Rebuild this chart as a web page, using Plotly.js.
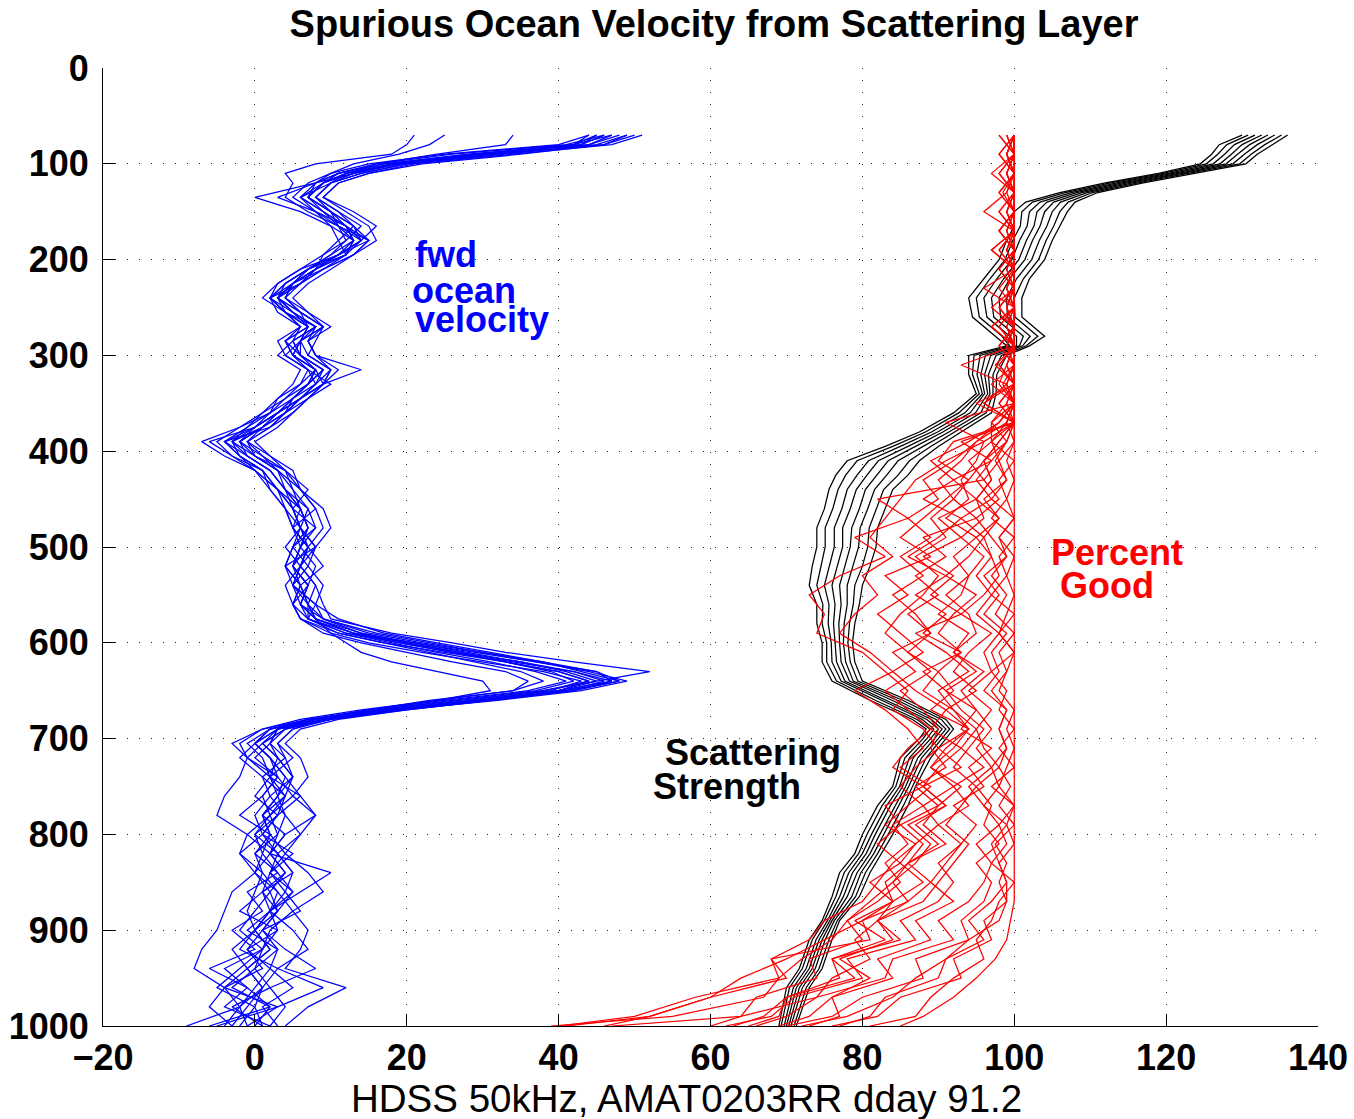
<!DOCTYPE html>
<html>
<head>
<meta charset="utf-8">
<script src="https://cdn.plot.ly/plotly-3.0.1.min.js"></script>
<style>html,body{margin:0;padding:0;background:#fff;}#chart{width:1354px;height:1119px;}</style>
</head>
<body>
<div id="chart"></div>
<script>
// ---------- tick labels ----------
const xTicks = [-20, 0, 20, 40, 60, 80, 100, 120, 140];
const xTickText = ['\u221220', '0', '20', '40', '60', '80', '100', '120', '140'];
const yTicks = [0, 100, 200, 300, 400, 500, 600, 700, 800, 900, 1000];
const yTickText = ['0', '100', '200', '300', '400', '500', '600', '700', '800', '900', '1000'];

// ---------- fwd ocean velocity (blue) ----------
const depthB = [70,80,90,100,110,120,
  135,150,165,180,195,210,225,240,255,270,285,300,315,330,345,360,375,390,405,420,
  440,460,480,500,520,540,560,
  575,590,600,610,620,630,640,650,660,670,680,690,
  705,720,740,760,780,800,820,840,860,880,900,920,940,960,980,1000];
const blue1 = [46,43,30,18,12,9, 6,9,12,13,10,7,4,2,5,8,5,6,9,7,5,3,0,-3,-1,2, 4,6,7,6,5,7,6, 8,14,20,27,33,40,44,38,27,16,8,3, 0,2,4,3,1,2,4,2,1,3,0,2,-1,1,-2,-4];
const blue2 = [49,45,33,20,14,10, 8,11,14,12,9,6,3,1,4,6,3,4,7,6,4,1,-1,-4,-2,1, 3,5,6,8,4,6,7, 9,16,23,30,37,45,47,40,30,18,9,4, 2,0,3,5,2,0,3,5,1,2,-1,3,0,-3,2,0];
const blue3 = [44,40,25,15,10,7, 5,8,10,11,12,8,5,3,6,9,6,7,10,8,6,4,2,-1,1,4, 5,7,8,5,7,5,8, 7,12,18,24,31,37,41,36,25,15,7,2, -1,1,2,4,3,0,1,3,5,2,0,-2,3,1,-1,-3];
const blue4 = [21,20,18,8,4,5, 4,7,11,14,11,8,5,2,4,7,4,5,8,6,3,1,-2,-5,-3,0, 2,4,5,7,6,4,5, 6,10,15,22,30,38,43,39,29,19,10,5, 3,4,1,2,4,3,0,1,3,5,2,1,-2,-5,0,1];
const blue5 = [47,44,32,19,13,8, 0,6,10,13,12,9,6,4,7,10,7,8,11,9,7,5,2,-1,0,3, 6,8,9,7,6,8,9, 10,18,26,33,42,52,45,40,30,19,10,4, 1,3,5,2,0,1,3,5,4,2,3,1,0,2,-3,1];
const blue6 = [50,46,35,22,15,11, 9,12,15,16,13,9,6,3,5,8,5,6,9,8,6,3,1,-2,0,3, 4,6,7,5,4,5,6, 7,11,17,23,29,35,38,34,24,14,6,1, -2,-1,2,3,1,4,2,0,2,0,-2,1,-4,-1,2,-6];
const blue7 = [34,33,24,16,11,8, 6,8,11,12,10,7,5,4,6,7,6,5,8,7,5,2,0,-6,-3,1, 3,4,5,6,5,7,5, 7,13,21,28,35,41,45,38,28,17,8,2, 0,2,3,1,2,3,2,4,2,3,1,-1,2,0,-2,-1];
const blue8 = [45,42,28,17,12,9, 7,10,13,15,11,6,3,2,4,6,5,3,6,5,3,2,-1,-3,-2,0, 3,5,6,5,4,6,5, 6,9,14,20,26,33,36,34,23,15,8,4, 1,3,2,0,3,1,-2,1,0,-1,0,-3,-1,-4,-2,-9];
const blue9 = [48,44,31,19,13,10, 8,11,13,14,12,8,6,3,5,8,7,8,14,9,6,4,1,-2,1,3, 5,6,7,6,5,7,6, 9,14,21,29,37,44,49,43,32,19,9,3, 2,4,5,3,4,6,3,2,5,3,1,3,2,5,1,3];
const blue10 = [25,23,19,13,10,8, 7,10,12,13,11,8,5,3,5,7,6,6,8,7,5,3,0,-4,-1,2, 4,5,6,7,5,6,7, 8,10,12,14,18,24,30,31,24,15,8,3, 0,2,4,6,8,4,2,10,6,2,0,2,-1,1,0,-2];
const blue11 = [46,41,26,16,11,9, 7,9,11,15,13,10,7,5,7,9,6,4,7,10,7,4,2,-4,-2,1, 2,4,6,8,6,5,7, 8,13,19,26,34,42,46,41,30,17,7,1, -3,-1,-2,-4,-5,-1,-2,0,-3,-4,-5,-7,-8,-4,-6,-3];
const blue12 = [51,47,34,21,15,11, 9,13,16,14,11,7,4,3,6,9,8,7,10,9,7,5,3,0,2,5, 6,9,10,8,7,9,8, 11,17,24,31,38,45,48,42,31,20,11,6, 4,6,7,5,8,6,4,7,9,5,7,6,4,12,7,4];
const blue13 = [45,43,29,17,11,8, 3,8,12,14,11,7,5,3,4,7,4,6,9,7,4,2,-2,-7,-4,0, 3,6,5,7,6,5,8, 9,15,22,30,38,43,48,41,30,18,8,2, 0,-2,1,4,2,-1,2,4,1,-2,3,-1,1,-4,3,-5];
const blue14 = [47,42,29,18,13,9, 7,10,13,11,9,8,6,2,3,6,4,5,7,8,5,4,1,-3,0,4, 6,8,5,7,9,6,5, 6,11,17,25,33,40,44,40,29,17,9,5, 3,5,2,6,3,1,5,2,4,6,1,4,8,2,4,2];
const blue15 = [49,46,31,20,14,10, 6,9,12,15,13,9,5,4,6,9,7,8,10,9,6,3,1,-1,2,4, 7,5,8,6,8,7,6, 8,13,20,27,35,42,47,42,31,20,10,3, 1,-1,3,1,-2,2,0,3,-1,1,-3,0,-6,-1,-4,2];
const blue16 = [44,42,30,19,12,10, 8,10,11,13,12,7,4,2,4,8,6,5,8,9,6,3,0,-2,-1,2, 4,7,6,4,6,8,7, 7,12,19,26,33,39,42,37,26,16,7,3, 2,3,5,4,1,2,1,0,3,2,5,7,3,9,3,-1];

// ---------- scattering strength (black) ----------
const depthK = [70,80,90,100,110,120,130,140,150,165,
  180,200,220,240,260,280,290,300,320,340,
  360,380,395,410,425,440,460,480,500,520,
  540,560,580,600,620,640,660,680,690,700,
  720,750,770,800,820,840,865,890,910,940,
  960,1000];
const black1 = [130,127,126,124.5,119,112,106,101.5,100,100, 99,98,96,94,94.5,97.5,99,94,94,95, 92,87.5,83,78,76.5,75.6,75,74,74,73.4, 73,74,74,74.7,74.7,76,81,86.6,88.4,87.5, 85,84,82,80,79,77,76,74.7,73,71.7, 70,69];
const black2 = [130.8,128,126.8,125.3,119.6,112.7,106.7,102.4,101,100.8, 99.8,98.8,96.8,95,95.4,98.4,99.4,94.7,94.5,95.4, 92.7,88.3,84,79.3,77.8,76.8,76.1,75.1,75.1,74.5, 74,74.8,74.7,75.3,75.3,76.6,81.7,87.2,88.9,88, 85.6,84.4,82.6,80.6,79.5,77.6,76.5,75,73.4,72.1, 70.4,69.3];
const black3 = [131.7,129,127.7,126.2,120.3,113.5,107.5,103.4,102,101.7, 100.7,99.7,97.7,96,96.4,99.4,99.9,95.5,95.1,95.8, 93.5,89.1,85,80.8,79.3,78,77.3,76.3,76.3,75.6, 75,75.6,75.5,75.9,76,77.2,82.5,87.9,89.4,88.5, 86.2,84.9,83.2,81.2,80,78.2,77,75.4,73.9,72.6, 70.9,69.7];
const black4 = [132.6,130,128.6,127.1,120.9,114.2,108.2,104.3,103,102.6, 101.6,100.6,98.6,97,97.3,100.3,100.3,96.2,95.6,96.1, 94.2,89.9,86,82.1,80.6,79.2,78.4,77.4,77.4,76.7, 76,76.4,76.2,76.4,76.6,77.7,83.2,88.5,90,89, 86.7,85.3,83.7,81.7,80.5,78.7,77.5,75.7,74.3,73, 71.3,70];
const black5 = [133.4,131,129.4,127.9,121.6,114.9,108.9,105.2,104,103.4, 102.4,101.4,99.4,98,98.2,101.2,100.7,96.9,96.1,96.5, 94.9,90.6,87,83.4,81.9,80.4,79.6,78.6,78.4,77.7, 77,77.2,76.9,77,77.2,78.3,83.9,89.1,90.5,89.5, 87.3,85.7,84.3,82.3,81,79.3,78,76,74.7,73.4, 71.7,70.3];
const black6 = [134.3,132,130.3,128.8,122.2,115.6,109.6,106.1,105,104.3, 103.3,102.3,100.3,99,99.1,102.1,101.1,97.6,96.6,96.8, 95.6,91.4,88,84.7,83.2,81.6,80.7,79.7,79.5,78.8, 78,78,77.6,77.5,77.8,78.8,84.6,89.7,91,90, 87.8,86.1,84.8,82.8,81.5,79.8,78.6,76.3,75.1,73.8, 72.1,70.6];
const black7 = [135.2,133,131.2,129.7,122.9,116.3,110.3,107.1,106,105.2, 104.2,103.2,101.2,100,100.1,103.1,101.6,98.3,97.2,97.2, 96.3,92.2,89,86.2,84.7,82.8,81.9,80.9,80.7,80, 79,78.8,78.3,78.1,78.4,79.4,85.3,90.4,91.5,90.5, 88.4,86.6,85.4,83.4,82,80.4,79.1,76.7,75.6,74.3, 72.6,71];
const black8 = [136,134,132,130.5,123.5,117,111,108,107,106, 105,104,102,101,101,104,102,99,97.7,97.6, 97,93,90,87.5,86,84,83,82,81.8,81, 80,79.6,79,78.7,79,80,86,91,92,91, 89,87,86,84,82.5,81,79.6,77,76,74.7, 73,71.3];

// ---------- percent good (red) ----------
const depthR = [70,90,110,130,150,170,190,210, 230,250,270,290,310,330,350,370,
  390,410,430,450,470,490,510,530, 550,570,590,610,630,650,670,690,
  710,730,750,770,790,810,830,850, 870,890,910,930,950,970,990,1000];
const red1 = [100,100,100,100,100,100,100,100, 100,100,100,100,100,100,100,100, 100,100,100,100,100,100,100,100, 100,100,100,100,100,100,100,100, 100,100,100,100,100,100,100,100, 100,99.5,99,97.5,95,92,88,85];
const red2 = [98,100,97,100,98,100,97,100, 98,100,97,100,97.5,100,98,100, 97,100,98,99,97,100,98,99, 97,100,98,100,97,99,98,100, 98,100,97,100,98,99,97,100, 98,97,95,96,92,89,87,81];
const red3 = [100,98,100,98.5,100,98,100,98, 100,98,100,98,100,98.5,100,97, 99,97.5,99,97,100,98,99,97, 99,97.5,100,98,99,97,99,98, 99,98,99.5,98,100,97.5,99,98, 99,96,97,92,93,85,82,76];
const red4 = [99,100,98,100,99,100,97,100, 99,100,98,100,93,99,96,100, 98,96,97,95,98,96,97,95, 97,95,98,96,97,94,97,95, 96,98,95,97,96,98,95,97, 96,93,94,87,88,80,76,70];
const red5 = [100,99,100,98,100,99,100,98, 100,99,100,98,100,99,100,91, 96,95,93,94,91,95,92,94, 93,90,94,92,95,91,93,96, 94,92,95,93,91,94,92,90, 88,82,85,76,79,70,67,63];
const red6 = [100,98,100,99,96,100,98,100, 96,100,98,100,99,100,98,100, 93,97,92,95,90,93,88,92, 89,93,87,91,94,90,92,95, 93,96,92,94,90,93,91,89, 92,87,89,82,84,76,73,69];
const red7 = [100,100,99,100,98,100,99,100, 100,98,100,99,100,97,100,98, 95,92,88,90,86,89,85,88, 84,87,89,86,90,88,92,94, 91,89,92,88,90,87,85,88, 84,79,83,76,77,70,69,65];
const red8 = [98,100,99,100,100,98,100,99, 100,100,97,100,98,100,95,100, 92,90,94,91,88,85,89,83, 86,82,85,88,84,87,91,89, 93,90,88,91,86,89,87,84, 86,82,84,77,81,76,77,73];
const red9 = [100,99,100,100,99,100,100,99, 100,99,100,100,99,98,100,99, 97,94,96,82,86,79,83,77, 73,75,74,80,83,86,84,88, 90,87,85,88,84,86,83,85, 82,78,80,73,74,66,64,60];
const red10 = [100,100,98,100,100,99,100,100, 99,100,100,98,100,100,96,100, 96,91,87,85,83,81,84,80, 82,79,77,81,84,79,83,86, 88,85,89,86,83,87,84,82, 80,75,73,68,70,60,52,41];
const red11 = [100,100,99,100,100,100,99,100, 100,100,99,100,100,99,100,98, 94,89,92,88,93,90,86,91, 87,91,88,93,90,92,89,94, 92,89,93,90,88,91,86,89, 86,80,81,68,69,58,50,40];
const red12 = [100,100,100,99,100,100,100,99, 100,100,100,99,100,100,99,100, 98,96,97,95,96,93,96,94, 91,94,95,92,96,93,95,97, 95,97,94,96,98,95,97,96, 94,90,92,84,83,74,64,47];
const red13 = [100,99,100,100,100,99,100,100, 100,99,100,100,99,100,100,100, 99,97,95,97,93,96,94,91, 95,92,90,93,88,91,95,93, 97,94,96,92,95,93,90,92, 90,85,87,78,80,71,68,62];
const red14 = [100,100,100,100,99,100,100,100, 100,100,99,100,100,100,99,97, 97,98,96,98,95,97,99,96, 98,96,99,97,98,96,99,98, 99,97,98,96,99,97,98,99, 97,94,96,91,90,83,81,77];
const red15 = [100,100,99,100,100,98,100,100, 99,100,100,100,98,100,100,99, 95,93,90,92,89,91,87,90, 88,85,83,86,89,85,88,90, 89,91,87,90,85,88,86,83, 84,80,75,70,64,60,52,46];
const red16 = [99,100,100,98,100,100,99,100, 100,97,100,100,100,99,100,100, 100,98,99,96,98,95,97,98, 96,93,97,94,92,95,91,94, 90,93,88,91,87,90,86,84, 81,78,76,72,69,67,55,39];
const red17 = [100,99,100,100,100,100,98,100, 100,100,100,99,100,100,100,100, 99,96,94,92,95,88,91,87, 90,86,89,84,87,83,86,89, 86,84,88,83,85,82,85,81, 84,82,79,81,76,74,70,66];
const red18 = [100,100,100,100,100,100,100,100, 100,100,100,100,100,100,100,99, 100,99,100,99,100,98,100,99, 100,99,98,100,99,98,100,99, 100,99,98,100,99,100,98,99, 99,98,94,91,87,84,78,72];

const blueLines = [blue1,blue2,blue3,blue4,blue5,blue6,blue7,blue8,blue9,blue10,blue11,blue12,blue13,blue14,blue15,blue16];
const blackLines = [black1,black2,black3,black4,black5,black6,black7,black8];
const redLines = [red1,red2,red3,red4,red5,red6,red7,red8,red9,red10,red11,red12,red13,red14,red15,red16,red17,red18];

const FONT = 'Liberation Sans, Arial, Helvetica, sans-serif';
function mk(vals, depth, color) {
  return {x: vals, y: depth, type: 'scatter', mode: 'lines',
          line: {color: color, width: 1.25}, hoverinfo: 'skip', showlegend: false};
}
const traces = [];
blueLines.forEach(v => traces.push(mk(v, depthB, '#0000ff')));
blackLines.forEach(v => traces.push(mk(v, depthK, '#000000')));
redLines.forEach(v => traces.push(mk(v, depthR, '#ff0000')));

const axisCommon = {
  ticks: 'inside', ticklen: 12, tickwidth: 1, tickcolor: '#000',
  showline: true, linecolor: '#000', linewidth: 1, mirror: false,
  showgrid: true, gridcolor: '#222', gridwidth: 1, griddash: '1px,11px',
  zeroline: false, fixedrange: true,
  tickfont: {family: FONT, size: 36, weight: 'bold', color: '#000'}
};

function lbl(text, x, y, color) {
  return {text: text, x: x, y: y, xref: 'x', yref: 'y', xanchor: 'left', yanchor: 'middle',
          showarrow: false, font: {family: FONT, size: 36, weight: 'bold', color: color}};
}

const layout = {
  width: 1354, height: 1119,
  margin: {l: 103, r: 36, t: 68, b: 93, pad: 0},
  paper_bgcolor: '#ffffff', plot_bgcolor: '#ffffff',
  showlegend: false,
  font: {family: FONT, color: '#000'},
  title: {text: 'Spurious Ocean Velocity from Scattering Layer',
          font: {family: FONT, size: 38, weight: 'bold', color: '#000'},
          x: 714 / 1354, xref: 'container', xanchor: 'center',
          y: 1 - 24 / 1119, yref: 'container', yanchor: 'middle'},
  xaxis: Object.assign({}, axisCommon, {range: [-20, 140], tickmode: 'array',
          tickvals: xTicks, ticktext: xTickText, ticklabelstandoff: 0}),
  yaxis: Object.assign({}, axisCommon, {range: [1000, 0], tickmode: 'array',
          tickvals: yTicks, ticktext: yTickText, ticklabelstandoff: 6}),
  annotations: [
    lbl('fwd', 20.8, 195, '#0000ff'),
    lbl('ocean', 20.4, 232, '#0000ff'),
    lbl('velocity', 20.8, 263, '#0000ff'),
    lbl('Scattering', 53.8, 715, '#000000'),
    lbl('Strength', 52.2, 749.5, '#000000'),
    lbl('Percent', 104.6, 506, '#ff0000'),
    lbl('Good', 105.8, 540, '#ff0000'),
    {text: 'HDSS 50kHz, AMAT0203RR dday 91.2', xref: 'paper', yref: 'paper',
     x: (686 - 103) / 1215, y: -(1098 - 1026) / 958, xanchor: 'center', yanchor: 'middle',
     showarrow: false, font: {family: FONT, size: 38.5, color: '#000'}}
  ]
};

Plotly.newPlot('chart', traces, layout, {displayModeBar: false, staticPlot: true});
</script>
</body>
</html>
